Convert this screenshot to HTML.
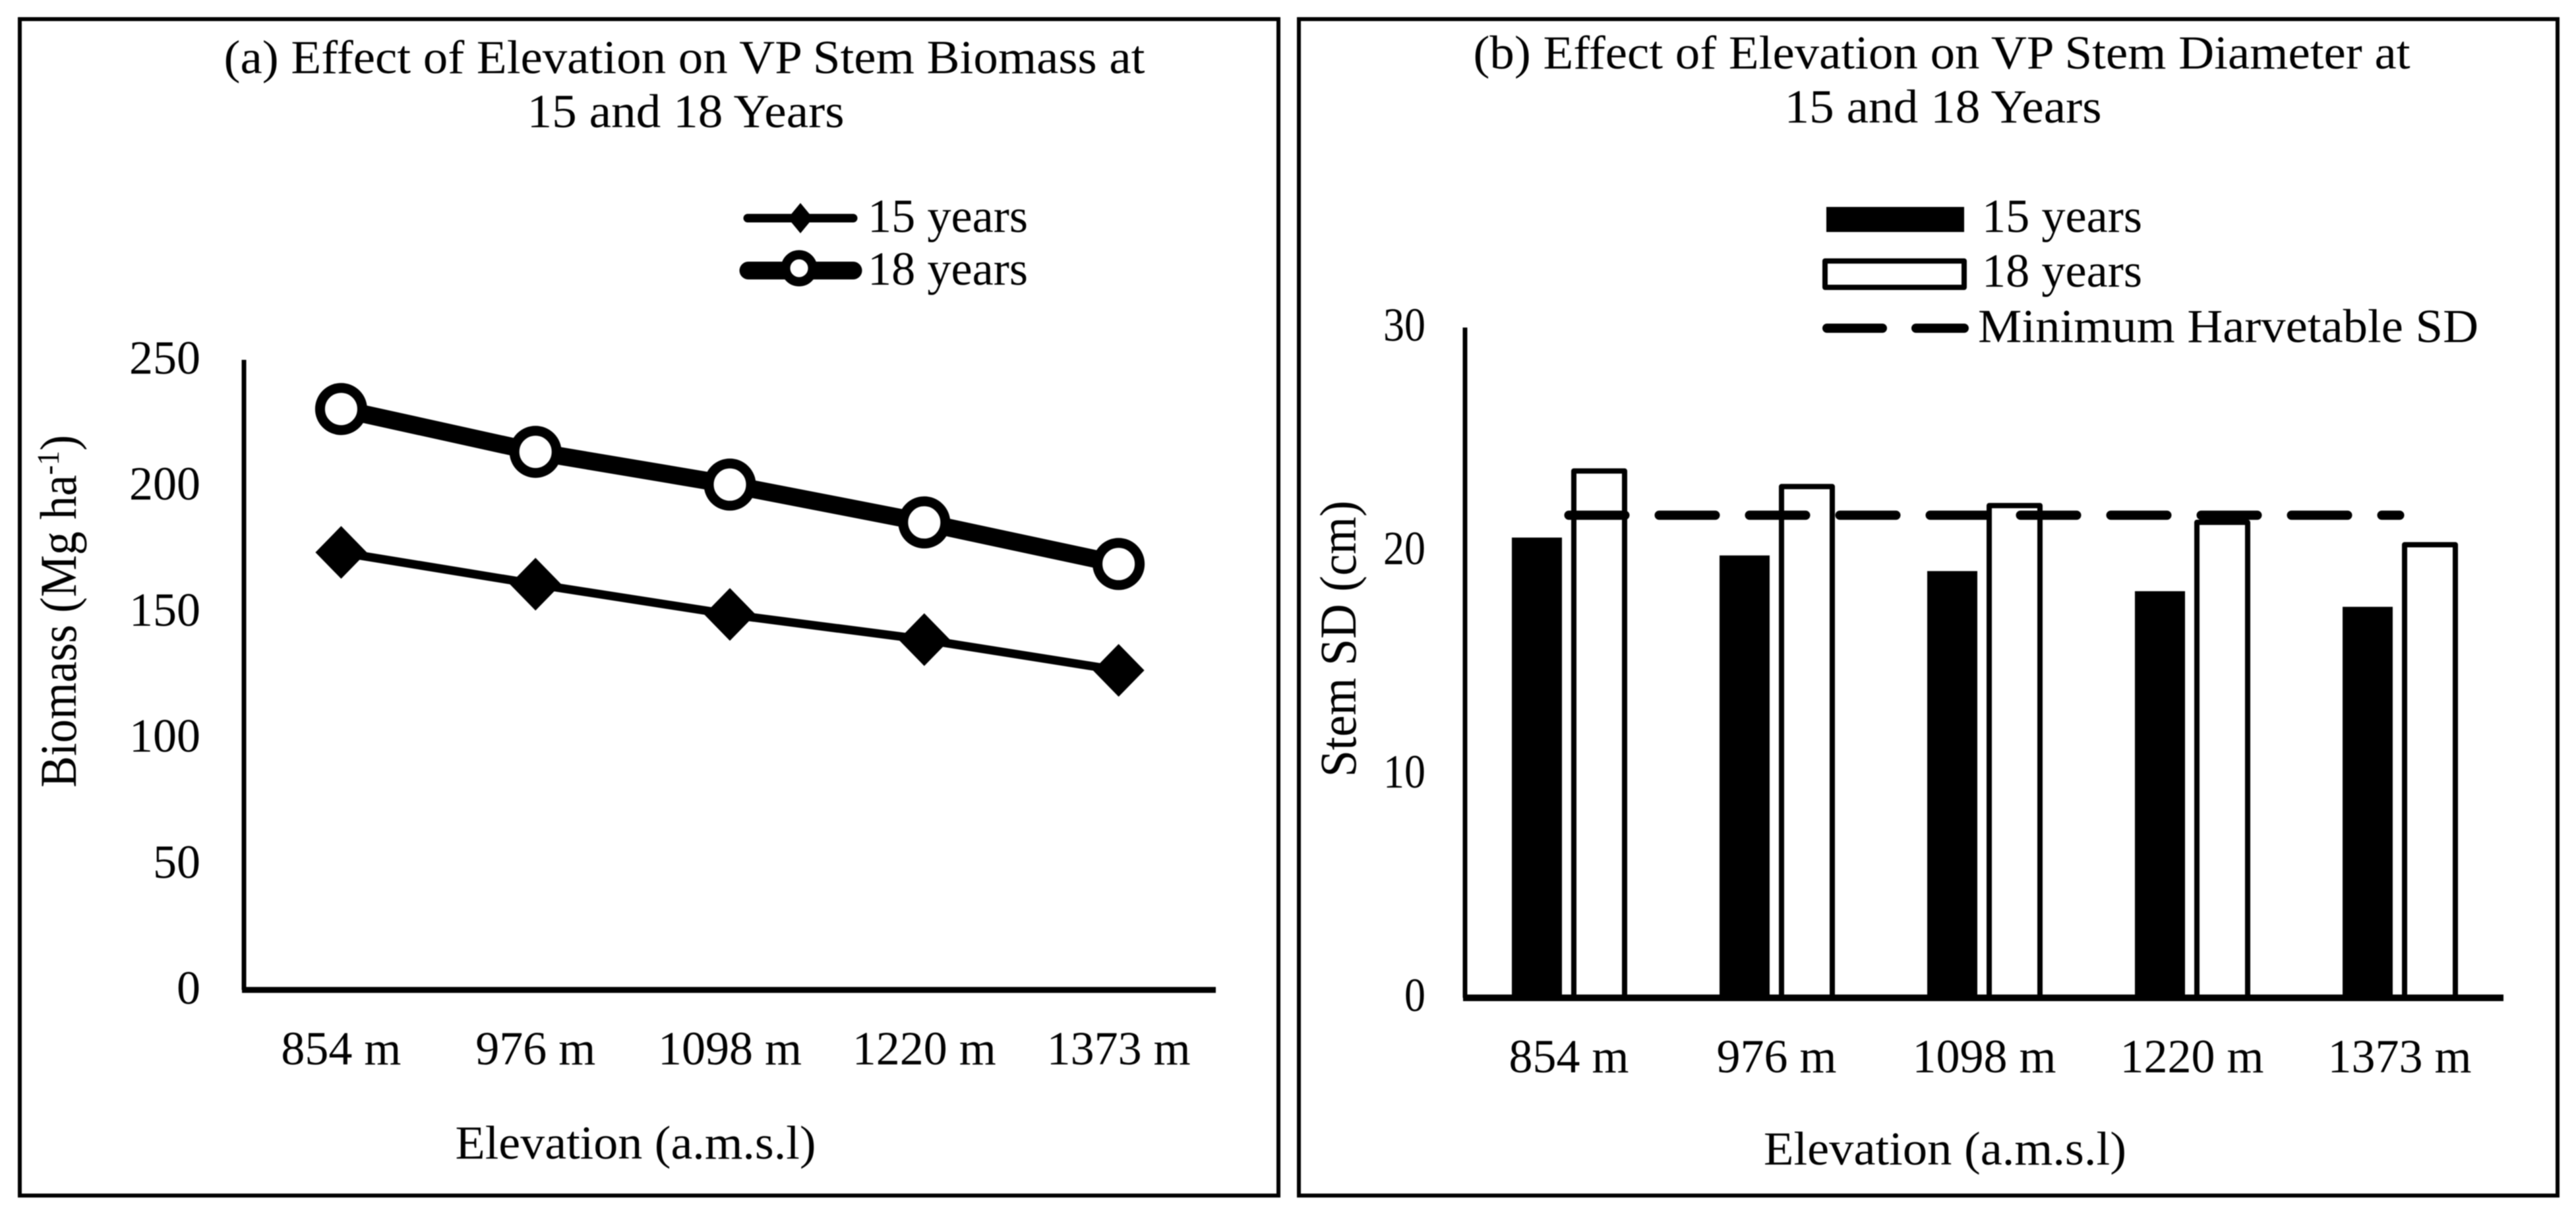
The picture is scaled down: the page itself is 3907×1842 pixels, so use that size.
<!DOCTYPE html>
<html lang="en">
<head>
<meta charset="utf-8">
<title>Effect of Elevation on VP Stem Biomass and Diameter</title>
<style>
html,body{margin:0;padding:0;background:#fff;width:3907px;height:1842px;overflow:hidden}
svg{display:block;filter:blur(0.9px)}
text{font-family:"Liberation Serif",serif;fill:#000;font-size:72px}
</style>
</head>
<body>
<svg id="chart" xmlns="http://www.w3.org/2000/svg" width="3907" height="1842" viewBox="0 0 3907 1842">
  <rect x="0" y="0" width="3907" height="1842" fill="#fff"/>
  <rect x="30" y="29" width="1909" height="1785" fill="none" stroke="#000" stroke-width="6"/>
  <rect x="1970" y="29" width="1909" height="1785" fill="none" stroke="#000" stroke-width="6"/>

  <text x="1038" y="111" text-anchor="middle" textLength="1397" lengthAdjust="spacingAndGlyphs">(a) Effect of Elevation on VP Stem Biomass at</text>
  <text x="1040" y="193" text-anchor="middle" textLength="481" lengthAdjust="spacingAndGlyphs">15 and 18 Years</text>
  <text x="2945" y="104" text-anchor="middle" textLength="1421" lengthAdjust="spacingAndGlyphs">(b) Effect of Elevation on VP Stem Diameter at</text>
  <text x="2947" y="186" text-anchor="middle" textLength="481" lengthAdjust="spacingAndGlyphs">15 and 18 Years</text>

  <g>
    <line x1="1134" y1="331" x2="1294" y2="331" stroke="#000" stroke-width="13" stroke-linecap="round"/>
    <polygon points="1214,308 1233,331 1214,354 1195,331" fill="#000"/>
    <text x="1316" y="352" textLength="243" lengthAdjust="spacingAndGlyphs">15 years</text>
    <line x1="1135" y1="410.5" x2="1294" y2="410.5" stroke="#000" stroke-width="27" stroke-linecap="round"/>
    <circle cx="1212" cy="407" r="20.5" fill="#fff" stroke="#000" stroke-width="14"/>
    <text x="1316" y="432" textLength="243" lengthAdjust="spacingAndGlyphs">18 years</text>
  </g>

  <g>
    <rect x="2770" y="314" width="209" height="38" fill="#000"/>
    <text x="3006" y="352" textLength="243" lengthAdjust="spacingAndGlyphs">15 years</text>
    <rect x="2768" y="396" width="211" height="40" fill="#fff" stroke="#000" stroke-width="8" stroke-linejoin="round"/>
    <text x="3006" y="435" textLength="243" lengthAdjust="spacingAndGlyphs">18 years</text>
    <line x1="2771" y1="498" x2="2855" y2="498" stroke="#000" stroke-width="14" stroke-linecap="round"/>
    <line x1="2906" y1="498" x2="2979" y2="498" stroke="#000" stroke-width="14" stroke-linecap="round"/>
    <text x="3000" y="519" textLength="759" lengthAdjust="spacingAndGlyphs">Minimum Harvetable SD</text>
  </g>

  <text x="964" y="1758" text-anchor="middle" textLength="547" lengthAdjust="spacingAndGlyphs">Elevation (a.m.s.l)</text>
  <text x="2950" y="1767" text-anchor="middle" textLength="550" lengthAdjust="spacingAndGlyphs">Elevation (a.m.s.l)</text>
  <text transform="translate(115,1195) rotate(-90) scale(0.92,1)" x="0" y="0" style="font-size:78px">Biomass (Mg ha<tspan dy="-26" style="font-size:48px">-1</tspan><tspan dy="26">)</tspan></text>
  <text transform="translate(2056,1179) rotate(-90) scale(0.94,1)" x="0" y="0" style="font-size:78px">Stem SD (cm)</text>

  <g id="panel-a"></g>
  <g id="panel-b"></g>
</svg>
<script>
const categories = ["854 m", "976 m", "1098 m", "1220 m", "1373 m"];
const biomassTicks = [0, 50, 100, 150, 200, 250];
const biomass15 = [173.6, 161, 149, 139, 126.8];
const biomass18 = [230.5, 213.5, 200.5, 185.5, 169];
const diameterTicks = [0, 10, 20, 30];
const diameter15 = [20.6, 19.8, 19.1, 18.2, 17.5];
const diameter18 = [23.7, 23.0, 22.15, 21.4, 20.4];
const minimumHarvestable = [21.6, 21.6, 21.6, 21.6, 21.6];

const NS = "http://www.w3.org/2000/svg";
function make(parent, tag, attrs, text) {
  const el = document.createElementNS(NS, tag);
  for (const k in attrs) el.setAttribute(k, attrs[k]);
  if (text !== undefined) el.textContent = text;
  parent.appendChild(el);
  return el;
}

/* Panel a axes */
const aLeft = 370, aRight = 1844, aBase = 1502, aTop = 546;
function ax(i) { return aLeft + (aRight - aLeft) * (i + 0.5) / categories.length; }
function ay(v) { return aBase - (aBase - aTop) * v / 250; }
/* Panel b axes */
const bLeft = 2222, bRight = 3797, bBase = 1514, bTop = 497;
function bx(i) { return bLeft + (bRight - bLeft) * (i + 0.5) / categories.length; }
function by(v) { return bBase - (bBase - bTop) * v / 30; }

const pa = document.getElementById("panel-a");
const pb = document.getElementById("panel-b");

/* Panel a: ticks and axes */
biomassTicks.forEach(function (t) {
  const el = make(pa, "text", { x: 304, y: ay(t) + 21, "text-anchor": "end", textLength: String(t).length * 36, lengthAdjust: "spacingAndGlyphs" }, t);
  
  
});
categories.forEach(function (c, i) {
  const el = make(pa, "text", { x: ax(i), y: 1615, "text-anchor": "middle" }, c);
  
  
});
const aYAxis = make(pa, "line", { x1: aLeft, y1: aTop, x2: aLeft, y2: aBase, stroke: "#000", "stroke-width": 7 });


const aXAxis = make(pa, "line", { x1: aLeft - 3, y1: aBase, x2: aRight, y2: aBase, stroke: "#000", "stroke-width": 9 });



/* Panel a: 15-year series */
const line15 = make(pa, "polyline", { points: biomass15.map(function (v, i) { return ax(i) + "," + ay(v); }).join(" "), fill: "none", stroke: "#000", "stroke-width": 13 });


biomass15.forEach(function (v, i) {
  const x = ax(i), y = ay(v);
  const m = make(pa, "polygon", { points: [x, y - 40, x + 39, y, x, y + 40, x - 39, y].join(","), fill: "#000" });
  
  
});

/* Panel a: 18-year series */
const line18 = make(pa, "polyline", { points: biomass18.map(function (v, i) { return ax(i) + "," + ay(v); }).join(" "), fill: "none", stroke: "#000", "stroke-width": 27 });


biomass18.forEach(function (v, i) {
  const m = make(pa, "circle", { cx: ax(i), cy: ay(v), r: 32, fill: "#fff", stroke: "#000", "stroke-width": 15 });
  
  
});

/* Panel b: ticks */
diameterTicks.forEach(function (t) {
  const el = make(pb, "text", { x: 2162, y: by(t) + 20, "text-anchor": "end", textLength: String(t).length * 32, lengthAdjust: "spacingAndGlyphs" }, t);
  
  
});
categories.forEach(function (c, i) {
  const el = make(pb, "text", { x: bx(i), y: 1627, "text-anchor": "middle" }, c);
  
  
});

/* Panel b: bars */
diameter15.forEach(function (v, i) {
  const b = make(pb, "rect", { x: bx(i) - 86.5, y: by(v), width: 76, height: by(0) - by(v), fill: "#000" });
  
  
});
diameter18.forEach(function (v, i) {
  const b = make(pb, "rect", { x: bx(i) + 7.5, y: by(v) + 4, width: 77, height: by(0) - by(v) - 4, fill: "#fff", stroke: "#000", "stroke-width": 8, "stroke-linejoin": "round" });
  
  
});

/* Panel b: axes */
const bYAxis = make(pb, "line", { x1: bLeft, y1: bTop, x2: bLeft, y2: bBase, stroke: "#000", "stroke-width": 7 });


const bXAxis = make(pb, "line", { x1: bLeft - 3, y1: bBase, x2: bRight, y2: bBase, stroke: "#000", "stroke-width": 10 });



/* Panel b: minimum harvestable line */
const minLine = make(pb, "polyline", { points: minimumHarvestable.map(function (v, i) { return bx(i) + "," + by(v); }).join(" "), fill: "none", stroke: "#000", "stroke-width": 14, "stroke-linecap": "round", "stroke-dasharray": "85 52" });


</script>
</body>
</html>
